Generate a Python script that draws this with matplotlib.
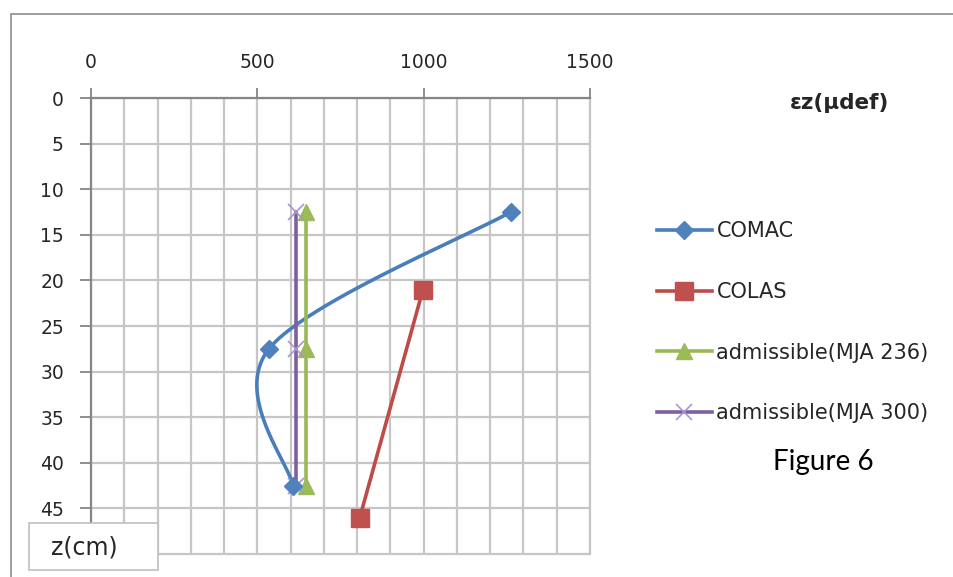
import numpy as np
import matplotlib.pyplot as plt
from matplotlib.lines import Line2D
from matplotlib.patches import Rectangle

plt.rcParams['font.family'] = ['DejaVu Sans']

# strain (µdef) versus depth (cm)
depth_comac = [12.5, 27.5, 42.5]
eps_comac = [1262, 535, 607]
depth_colas = [21, 46]
eps_colas = [998, 808]
depth_adm = [12.5, 27.5, 42.5]
eps_mja236 = [646, 646, 646]
eps_mja300 = [616, 616, 616]

x_ticks = [0, 500, 1000, 1500]
y_ticks = [0, 5, 10, 15, 20, 25, 30, 35, 40, 45]

W, H = 954, 577
fig = plt.figure(figsize=(W / 100, H / 100), dpi=100)
ax = fig.add_axes([91 / W, 1 - 554 / H, (590 - 91) / W, (554 - 98) / H])

# chart frame
fig.patches.append(Rectangle((11 / W, -0.1), 1.2, 1.1 - 14 / H,
                             transform=fig.transFigure, fill=False,
                             edgecolor='#8c8c8c', linewidth=1.2))


def smooth(xs, ys, sx, sy, n=80):
    # catmull-rom through the points, worked out in pixel space
    p = np.column_stack([np.asarray(xs, float) * sx, np.asarray(ys, float) * sy])
    pts = np.vstack([p[0], p, p[-1]])
    t = np.linspace(0, 1, n)[:, None]
    h00 = 2 * t**3 - 3 * t**2 + 1
    h10 = t**3 - 2 * t**2 + t
    h01 = -2 * t**3 + 3 * t**2
    h11 = t**3 - t**2
    segs = []
    for i in range(1, len(pts) - 2):
        p0, p1, p2, p3 = pts[i - 1:i + 3]
        m1 = (p2 - p0) / 2
        m2 = (p3 - p1) / 2
        segs.append(h00 * p1 + h10 * m1 + h01 * p2 + h11 * m2)
    c = np.vstack(segs)
    return c[:, 0] / sx, c[:, 1] / sy


sx = (590 - 91) / 1500
sy = (554 - 98) / 50
cx, cy = smooth(eps_comac, depth_comac, sx, sy)

blue, red, green, purple = '#4a7ebb', '#be4b48', '#98b954', '#7d60a0'
lw = 2.6

ax.plot(cx, cy, color=blue, lw=lw, solid_capstyle='round', zorder=3)
ax.plot(eps_comac, depth_comac, ls='none', marker='D', ms=9,
        color='#4f81bd', zorder=4)
ax.plot(eps_colas, depth_colas, color=red, lw=lw, marker='s', ms=13,
        mfc='#c0504d', mec='#c0504d', zorder=3)
ax.plot(eps_mja236, depth_adm, color=green, lw=lw, marker='^', ms=12,
        mfc='#9bbb59', mec='#9bbb59', zorder=3)
ax.plot(eps_mja300, depth_adm, color=purple, lw=lw, marker='x', ms=11,
        mew=1.2, mec='#a996cc', zorder=3)

ax.set_xlim(0, 1500)
ax.set_ylim(50, 0)
ax.xaxis.tick_top()
ax.set_xticks(x_ticks)
ax.set_xticks(np.arange(0, 1501, 100), minor=True)
ax.set_yticks(y_ticks)
ax.set_xticklabels([str(v) for v in x_ticks], fontsize=13.5, color='#262626')
ax.set_yticklabels([str(v) for v in y_ticks], fontsize=13.5, color='#262626')
ax.tick_params(axis='x', which='major', direction='out', length=7,
               width=1.3, color='#868686', pad=11.5)
ax.tick_params(axis='x', which='minor', length=0)
ax.tick_params(axis='y', direction='out', length=8, width=1.3,
               color='#868686', pad=11.5)
ax.grid(True, which='both', color='#c6c6c6', linewidth=1.6)
ax.set_axisbelow(True)
for side in ('bottom', 'right'):
    ax.spines[side].set_color('#c6c6c6')
    ax.spines[side].set_linewidth(1.6)
for side in ('top', 'left'):
    ax.spines[side].set_color('#868686')
    ax.spines[side].set_linewidth(1.6)

handles = [
    Line2D([], [], color=blue, lw=lw, marker='D', ms=9, mfc='#4f81bd', mec='#4f81bd'),
    Line2D([], [], color=red, lw=lw, marker='s', ms=13, mfc='#c0504d', mec='#c0504d'),
    Line2D([], [], color=green, lw=lw, marker='^', ms=12, mfc='#9bbb59', mec='#9bbb59'),
    Line2D([], [], color=purple, lw=lw, marker='x', ms=11, mew=1.2, mec='#a996cc'),
]
labels = ['COMAC', 'COLAS', 'admissible(MJA 236)', 'admissible(MJA 300)']
leg = fig.legend(handles, labels, loc='upper left',
                 bbox_to_anchor=(649 / W, 1 - 213 / H),
                 frameon=False, fontsize=15, handlelength=2.6,
                 handletextpad=0.24, labelspacing=1.95, borderaxespad=0)
for txt in leg.get_texts():
    txt.set_color('#262626')

fig.text(840 / W, 1 - 103 / H, 'εz(µdef)', fontsize=15.5, fontweight='bold',
         va='center', ha='center', color='#262626')
fig.text(823 / W, 1 - 462 / H, 'Figure 6', fontsize=20, va='center',
         ha='center', color='black', family='Lato')

fig.patches.append(Rectangle((29 / W, 1 - 570 / H), (158 - 29) / W, (570 - 523) / H,
                             transform=fig.transFigure, facecolor='white',
                             edgecolor='#bfbfbf', linewidth=1.2, zorder=5))
fig.text(84 / W, 1 - 548 / H, 'z(cm)', fontsize=17, va='center', ha='center',
         color='#262626', zorder=6)

fig.savefig('out.png', dpi=100)
